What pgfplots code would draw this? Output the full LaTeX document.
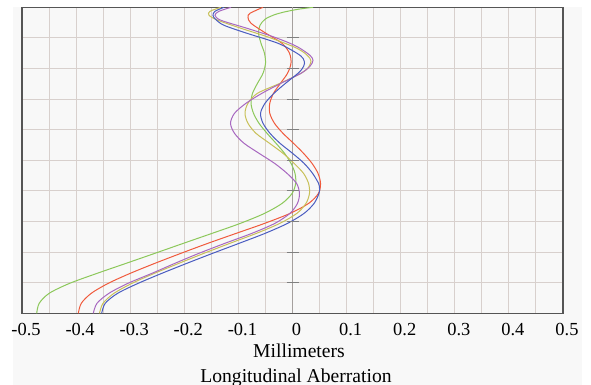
\documentclass[border=0pt]{standalone}
\usepackage{fontspec}
\setmainfont{Liberation Serif}
\usepackage{pgfplots}
\pgfplotsset{compat=1.18}
\definecolor{cgreen}{RGB}{140,200,90}
\definecolor{cred}{RGB}{240,90,60}
\definecolor{cblue}{RGB}{74,92,192}
\definecolor{cyellow}{RGB}{200,192,88}
\definecolor{cpurple}{RGB}{168,104,192}
\definecolor{gridc}{RGB}{216,208,205}
\definecolor{zeroc}{RGB}{165,160,158}
\definecolor{boxc}{RGB}{85,85,85}
\definecolor{bgc}{RGB}{248,248,248}
\begin{document}
\begin{tikzpicture}
\path[use as bounding box] (-22bp,-71.7bp) rectangle (569bp,313.3bp);
\fill[bgc] (-9bp,-71.7bp) rectangle (560bp,306bp);
\begin{axis}[
  at={(0,0)}, anchor=south west,
  scale only axis, width=541bp, height=306bp,
  xmin=-0.5, xmax=0.5, ymin=0, ymax=1,
  axis background/.style={fill=bgc},
  xtick={-0.5,-0.4,-0.3,-0.2,-0.1,0,0.1,0.2,0.3,0.4,0.5},
  xticklabels={-0.5,-0.4,-0.3,-0.2,-0.1,0,0.1,0.2,0.3,0.4,0.5},
  minor xtick={-0.45,-0.35,-0.25,-0.15,-0.05,0.05,0.15,0.25,0.35,0.45},
  ytick={0,0.1,0.2,0.3,0.4,0.5,0.6,0.7,0.8,0.9,1},
  yticklabels={},
  extra x ticks={0}, extra x tick labels={},
  extra x tick style={grid=major, major grid style={draw=zeroc, line width=1.2bp}},
  grid=both,
  major grid style={draw=gridc, line width=1bp},
  minor grid style={draw=gridc, line width=1bp},
  major tick length=0pt, minor tick length=0pt,
  axis line style={draw=boxc, line width=1.2bp},
  xticklabel style={font=\fontsize{18.5}{22}\selectfont, anchor=base, yshift=-21.7bp, xshift=4bp},
  every axis plot/.append style={line width=1bp, smooth},
]
% green
\addplot[cgreen] coordinates {
(-0.4728,0) (-0.4682,0.0327) (-0.4497,0.0654) (-0.4118,0.0980) (-0.3610,0.1307) (-0.3074,0.1634) (-0.2542,0.1961) (-0.2015,0.2288) (-0.1484,0.2614) (-0.0961,0.2941) (-0.0514,0.3268) (-0.0190,0.3595) (-0.0006,0.3922) (0.0059,0.4248) (0.0046,0.4575) (-0.0028,0.4902) (-0.0148,0.5229) (-0.0305,0.5556) (-0.0471,0.5882) (-0.0619,0.6209) (-0.0721,0.6536) (-0.0767,0.6863) (-0.0739,0.7190) (-0.0647,0.7516) (-0.0545,0.7843) (-0.0499,0.8170) (-0.0518,0.8497) (-0.0582,0.8824) (-0.0628,0.9150) (-0.0601,0.9412) (-0.0508,0.9608) (-0.0360,0.9739) (-0.0176,0.9837) (0.0102,0.9935) (0.0379,1.0)
};
% red
\addplot[cred] coordinates {
(-0.3959,0) (-0.3904,0.0327) (-0.3719,0.0654) (-0.3405,0.0980) (-0.2998,0.1307) (-0.2542,0.1634) (-0.2061,0.1961) (-0.1562,0.2288) (-0.1039,0.2614) (-0.0512,0.2941) (-0.0041,0.3268) (0.0301,0.3595) (0.0481,0.3922) (0.0518,0.4248) (0.0471,0.4575) (0.0360,0.4902) (0.0203,0.5229) (0.0018,0.5556) (-0.0176,0.5882) (-0.0333,0.6209) (-0.0420,0.6536) (-0.0420,0.6863) (-0.0351,0.7190) (-0.0222,0.7516) (-0.0092,0.7843) (-0.0028,0.8170) (-0.0055,0.8497) (-0.0194,0.8824) (-0.0490,0.9150) (-0.0767,0.9477) (-0.0823,0.9673) (-0.0786,0.9804) (-0.0545,1.0)
};
% yellow
\addplot[cyellow] coordinates {
(-0.3567,0) (-0.3503,0.0327) (-0.3299,0.0654) (-0.2967,0.0980) (-0.2551,0.1307) (-0.2098,0.1634) (-0.1636,0.1961) (-0.1155,0.2288) (-0.0665,0.2614) (-0.0231,0.2941) (0.0083,0.3268) (0.0250,0.3595) (0.0314,0.3922) (0.0296,0.4248) (0.0203,0.4575) (0.0028,0.4902) (-0.0176,0.5229) (-0.0425,0.5556) (-0.0675,0.5882) (-0.0823,0.6209) (-0.0878,0.6536) (-0.0823,0.6863) (-0.0647,0.7190) (-0.0231,0.7516) (0.0157,0.7843) (0.0296,0.8039) (0.0342,0.8235) (0.0323,0.8333) (0.0231,0.8497) (0.0083,0.8660) (-0.0139,0.8824) (-0.0490,0.9052) (-0.0952,0.9314) (-0.1377,0.9575) (-0.1543,0.9739) (-0.1525,0.9869) (-0.1322,1.0)
};
% purple
\addplot[cpurple] coordinates {
(-0.3682,0) (-0.3614,0.0327) (-0.3392,0.0654) (-0.3041,0.0980) (-0.2597,0.1307) (-0.2172,0.1634) (-0.1728,0.1961) (-0.1248,0.2288) (-0.0749,0.2614) (-0.0323,0.2941) (-0.0046,0.3268) (0.0092,0.3595) (0.0129,0.3922) (0.0074,0.4248) (-0.0102,0.4575) (-0.0333,0.4902) (-0.0619,0.5229) (-0.0896,0.5556) (-0.1072,0.5882) (-0.1146,0.6209) (-0.1072,0.6536) (-0.0860,0.6863) (-0.0564,0.7190) (-0.0213,0.7516) (0.0157,0.7843) (0.0323,0.8072) (0.0379,0.8268) (0.0323,0.8431) (0.0139,0.8660) (-0.0046,0.8824) (-0.0379,0.9052) (-0.0841,0.9314) (-0.1322,0.9575) (-0.1433,0.9739) (-0.1359,0.9869) (-0.1137,1.0)
};
% blue
\addplot[cblue] coordinates {
(-0.3527,0) (-0.3462,0.0327) (-0.3231,0.0654) (-0.2852,0.0980) (-0.2414,0.1307) (-0.1952,0.1634) (-0.1475,0.1961) (-0.0985,0.2288) (-0.0505,0.2614) (-0.0089,0.2941) (0.0216,0.3268) (0.0401,0.3595) (0.0490,0.3922) (0.0499,0.4085) (0.0481,0.4248) (0.0370,0.4575) (0.0213,0.4902) (0.0000,0.5229) (-0.0231,0.5556) (-0.0416,0.5882) (-0.0545,0.6209) (-0.0591,0.6536) (-0.0508,0.6863) (-0.0342,0.7190) (-0.0129,0.7516) (0.0102,0.7843) (0.0185,0.8007) (0.0222,0.8170) (0.0194,0.8333) (0.0083,0.8497) (-0.0268,0.8824) (-0.0841,0.9150) (-0.1266,0.9412) (-0.1423,0.9608) (-0.1470,0.9739) (-0.1433,0.9869) (-0.1266,1.0)
};
\end{axis}
\begin{axis}[
  at={(0,0)}, anchor=south west,
  scale only axis, width=541bp, height=306bp,
  xmin=-0.5, xmax=0.5, ymin=0, ymax=1,
  axis x line=none, axis y line=center,
  axis line style={draw=none},
  xtick=\empty,
  ytick={0.1,0.2,0.3,0.4,0.5,0.6,0.7,0.8,0.9},
  yticklabels={},
  major tick length=12bp, tick align=center,
  tick style={draw=gray, line width=1bp},
]
\end{axis}
\node[anchor=base, font=\fontsize{19.7}{23}\selectfont] at (277bp,-43.7bp) {Millimeters};
\node[anchor=base, font=\fontsize{19.7}{23}\selectfont] at (274bp,-68.7bp) {Longitudinal Aberration};
\end{tikzpicture}
\end{document}
